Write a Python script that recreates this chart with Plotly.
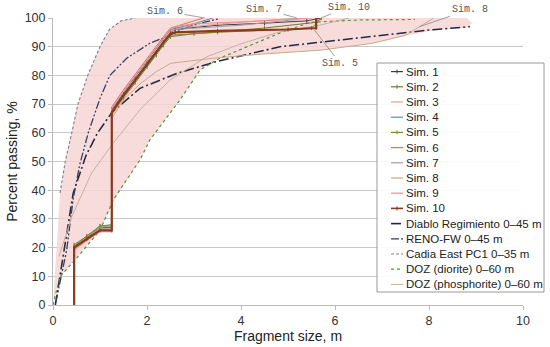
import plotly.graph_objects as go

# ---------------- data ----------------
env_upper_x = [0.0, 0.15, 0.26, 0.40, 0.53, 0.74, 1.00, 1.20, 1.45, 1.75, 8.70]
env_upper_y = [0.0, 39.0, 50.0, 60.0, 70.0, 80.0, 90.0, 96.0, 99.0, 100.0, 100.0]
env_lower_x = [0.0, 0.15, 0.50, 1.00, 1.28, 1.85, 2.06, 2.70, 3.13, 3.55, 4.50, 5.70, 6.80, 7.50, 8.00, 8.80, 8.92, 8.80]
env_lower_y = [0.0, 9.9, 16.3, 26.0, 36.0, 50.5, 57.5, 71.4, 81.9, 86.0, 87.5, 88.8, 91.2, 93.8, 95.5, 96.7, 98.3, 100.0]

cadia_x = [0.15, 0.26, 0.40, 0.53, 0.74, 1.00, 1.20, 1.45, 1.75]
cadia_y = [39.0, 50.0, 60.0, 70.0, 80.0, 90.0, 96.0, 99.0, 100.0]

reno_x = [0.06, 0.29, 0.43, 0.57, 0.75, 1.00, 1.21, 1.57, 2.06, 2.42, 2.80, 3.20, 3.55]
reno_y = [1.0, 19.0, 37.0, 49.0, 60.0, 72.0, 80.0, 86.0, 91.2, 93.5, 96.5, 98.5, 99.8]

diablo_x = [0.05, 0.20, 0.43, 0.70, 0.95, 1.25, 1.85, 2.63, 3.48, 4.83, 5.50, 6.80, 8.00, 8.87]
diablo_y = [0.0, 15.0, 39.0, 52.0, 60.0, 67.0, 75.5, 80.7, 84.8, 90.0, 91.2, 93.5, 95.8, 97.0]

dozd_x = [0.0, 0.15, 0.50, 1.00, 1.28, 1.85, 2.06, 2.70, 3.13, 3.55, 4.83, 5.47, 6.50, 7.70]
dozd_y = [0.0, 9.9, 16.3, 26.0, 36.6, 50.5, 57.5, 71.4, 81.9, 86.0, 94.8, 98.5, 99.3, 99.5]

dozp_x = [0.13, 0.40, 0.82, 1.28, 1.85, 2.49, 3.27, 4.00, 4.83, 5.68, 6.30]
dozp_y = [17.0, 30.8, 46.0, 56.4, 68.0, 78.4, 86.5, 91.0, 95.2, 97.5, 100.0]

sim1_x = [0.45, 0.45, 0.72, 1.00, 1.25, 1.25, 1.50, 1.75, 2.00, 2.20, 2.35, 2.50, 2.60, 3.50, 4.50, 5.40, 5.70]
sim1_y = [0, 20.0, 23.5, 27.0, 27.0, 68.0, 73.5, 78.5, 84.0, 88.0, 91.5, 95.0, 96.0, 97.5, 98.2, 99.0, 100.0]
sim2_x = [0.45, 0.45, 0.72, 1.00, 1.25, 1.25, 1.50, 1.75, 2.00, 2.20, 2.35, 2.50, 3.00, 4.50, 5.60, 5.70]
sim2_y = [0, 21.0, 24.0, 27.5, 28.0, 67.0, 72.0, 77.5, 83.0, 87.0, 90.5, 93.5, 94.5, 96.5, 98.5, 100.0]
sim3_x = [0.45, 0.45, 0.72, 1.00, 1.25, 1.25, 1.50, 1.75, 2.00, 2.20, 2.35, 2.50, 2.60, 4.00, 5.20]
sim3_y = [0, 19.0, 22.5, 26.0, 26.0, 66.0, 72.0, 78.0, 84.0, 88.5, 92.0, 95.5, 96.5, 98.5, 100.0]
sim4_x = [0.45, 0.45, 0.72, 1.00, 1.25, 1.25, 1.50, 1.75, 2.00, 2.20, 2.35, 2.50, 3.00, 3.40]
sim4_y = [0, 20.0, 23.0, 26.5, 27.0, 68.0, 74.0, 79.5, 85.0, 89.0, 92.5, 96.0, 98.0, 100.0]
sim5_x = [0.45, 0.45, 0.72, 1.00, 1.25, 1.25, 1.50, 1.75, 2.00, 2.20, 2.35, 2.50, 3.50, 5.50, 5.60, 5.70]
sim5_y = [0, 20.5, 24.0, 27.5, 27.5, 67.5, 72.5, 78.0, 83.5, 87.5, 91.0, 94.0, 95.0, 96.5, 98.0, 100.0]
sim6_x = [0.45, 0.45, 0.72, 1.00, 1.25, 1.25, 1.50, 1.75, 2.00, 2.20, 2.35, 2.50, 2.80, 3.20]
sim6_y = [0, 20.0, 23.0, 26.0, 26.5, 69.0, 75.0, 80.5, 86.0, 90.0, 93.5, 96.5, 98.0, 100.0]
sim7_x = [0.45, 0.45, 0.72, 1.00, 1.25, 1.25, 1.50, 1.75, 2.00, 2.20, 2.35, 2.50, 2.60, 4.00, 5.20, 5.30]
sim7_y = [0, 20.0, 23.5, 27.0, 27.5, 67.5, 73.0, 78.5, 84.5, 88.5, 92.0, 95.0, 96.0, 97.5, 99.5, 100.0]
sim8_x = [0.45, 0.45, 0.72, 1.00, 1.25, 1.25, 1.50, 1.85, 2.20, 2.50, 3.40, 4.50, 5.70, 6.80, 7.50, 8.10]
sim8_y = [0, 19.5, 23.0, 26.5, 26.5, 65.0, 71.5, 77.0, 81.3, 84.2, 86.0, 87.5, 88.8, 91.2, 94.0, 100.0]
sim9_x = [0.45, 0.45, 0.72, 1.00, 1.25, 1.25, 1.50, 1.75, 2.00, 2.20, 2.35, 2.50, 2.60, 3.00, 4.50, 5.50]
sim9_y = [0, 19.5, 22.5, 25.5, 25.5, 68.5, 74.5, 80.0, 85.5, 89.5, 93.0, 96.0, 97.0, 98.0, 99.0, 100.0]
sim10_x = [0.45, 0.45, 0.72, 1.00, 1.25, 1.25, 1.50, 1.75, 2.00, 2.20, 2.35, 2.50, 2.60, 3.50, 5.00, 5.60, 5.60]
sim10_y = [0, 20.0, 23.0, 26.0, 26.0, 67.0, 73.0, 78.5, 84.0, 88.0, 91.5, 94.5, 95.0, 95.5, 96.0, 96.5, 100.0]

sim_names = ["Sim. 1", "Sim. 2", "Sim. 3", "Sim. 4", "Sim. 5",
             "Sim. 6", "Sim. 7", "Sim. 8", "Sim. 9", "Sim. 10"]
sim_xs = [sim1_x, sim2_x, sim3_x, sim4_x, sim5_x, sim6_x, sim7_x, sim8_x, sim9_x, sim10_x]
sim_ys = [sim1_y, sim2_y, sim3_y, sim4_y, sim5_y, sim6_y, sim7_y, sim8_y, sim9_y, sim10_y]
sim_colors = ["#3c3c50", "#6b7f2a", "#d9a48e", "#5b8fa0", "#7b8b2b",
              "#e07060", "#a0a0a0", "#c8aa86", "#f08c8c", "#8b3a1e"]
sim_widths = [1, 1, 1, 1, 1, 1, 1, 1, 1, 2.2]
sim_markers = [True, True, False, False, True, False, False, False, False, True]

ref_names = ["Diablo Regimiento 0–45 m", "RENO-FW 0–45 m", "Cadia East PC1 0–35 m",
             "DOZ (diorite) 0–60 m", "DOZ (phosphorite) 0–60 m"]
ref_xs = [diablo_x, reno_x, cadia_x, dozd_x, dozp_x]
ref_ys = [diablo_y, reno_y, cadia_y, dozd_y, dozp_y]
ref_colors = ["#262a40", "#3a3f5e", "#857a90", "#4e9636", "#c8b0a0"]
ref_widths = [1.6, 1.3, 1.1, 1.2, 1.0]
ref_dashes = ["10px,3px,2px,3px", "8px,2px,2px,2px,2px,2px", "3px,2px", "dot", "solid"]

label_texts = ["Sim. 6", "Sim. 7", "Sim. 10", "Sim. 5", "Sim. 8"]
label_x = [3.23, 5.19, 5.70, 5.53, 7.80]
label_y = [100.0, 100.0, 100.0, 96.5, 97.0]
label_ax = [-40, -33, 28, 27, 50]
label_ay = [-7, -9, -11, 35, -17]

# ---------------- layout geometry (pixels) ----------------
W, H = 550, 347
L, R, T, B = 53, 27, 18, 42
PW, PH = W - L - R, H - T - B


def px_x(p):
    return (p - L) / PW


def px_y(p):
    return (H - B - p) / PH


fig = go.Figure()

fig.add_trace(go.Scatter(
    x=env_upper_x + env_lower_x[::-1], y=env_upper_y + env_lower_y[::-1],
    mode="lines", fill="toself", fillcolor="rgba(247,212,212,0.82)",
    line=dict(width=0, color="rgba(0,0,0,0)"), showlegend=False, hoverinfo="skip"))

for nm, xs, ys, col, w, dsh in zip(ref_names, ref_xs, ref_ys, ref_colors, ref_widths, ref_dashes):
    fig.add_trace(go.Scatter(x=xs, y=ys, name=nm, mode="lines",
                             line=dict(color=col, width=w, dash=dsh)))

for nm, xs, ys, col, w, mk in zip(sim_names, sim_xs, sim_ys, sim_colors, sim_widths, sim_markers):
    fig.add_trace(go.Scatter(
        x=xs, y=ys, name=nm,
        mode="lines+markers" if mk else "lines",
        line=dict(color=col, width=w),
        marker=dict(symbol="line-ns-open", size=3, color=col, line=dict(color=col, width=1))))

for t, x, y, ax, ay in zip(label_texts, label_x, label_y, label_ax, label_ay):
    fig.add_annotation(x=x, y=y, text=t, showarrow=True, arrowhead=0, arrowwidth=0.7,
                       arrowcolor="#777", ax=ax, ay=ay,
                       font=dict(family="Liberation Mono", size=10, color="#555"))

# ---------------- custom legend box ----------------
shapes = [dict(type="rect", xref="paper", yref="paper",
               x0=px_x(377), x1=px_x(544), y0=px_y(292), y1=px_y(63),
               line=dict(color="#9a9a9a", width=1), fillcolor="rgba(255,255,255,0.92)")]
entries = list(zip(sim_names, sim_colors, [1.2] * 9 + [1.6], ["solid"] * 10, sim_markers)) + \
          list(zip(ref_names, ref_colors, ref_widths, ref_dashes, [False] * 5))
for i, (nm, col, w, dsh, mk) in enumerate(entries):
    yc = 71.6 + 15.2 * i
    shapes.append(dict(type="line", xref="paper", yref="paper",
                       x0=px_x(391), x1=px_x(403), y0=px_y(yc), y1=px_y(yc),
                       line=dict(color=col, width=w, dash=dsh)))
    if mk:
        shapes.append(dict(type="line", xref="paper", yref="paper",
                           x0=px_x(397), x1=px_x(397), y0=px_y(yc - 2), y1=px_y(yc + 2),
                           line=dict(color=col, width=1)))
    fig.add_annotation(xref="paper", yref="paper", x=px_x(404), y=px_y(yc), text=nm,
                       showarrow=False, xanchor="left", yanchor="middle",
                       font=dict(family="Liberation Sans, Arial", size=11.5, color="#222"))

fig.update_layout(
    width=W, height=H, showlegend=False,
    margin=dict(l=L, r=R, t=T, b=B),
    paper_bgcolor="white", plot_bgcolor="white",
    font=dict(family="Liberation Sans, Arial", color="#222"),
    shapes=shapes,
    xaxis=dict(range=[0, 10], dtick=2, showgrid=False, zeroline=False, automargin=False,
               showline=True, linecolor="#bbb", ticks="outside", ticklen=4, tickcolor="#bbb",
               tickfont=dict(size=12.5, color="#333"),
               title=dict(text="Fragment size, m", font=dict(size=14, color="#222"), standoff=2)),
    yaxis=dict(range=[0, 100], dtick=10, showgrid=True, gridcolor="#c8c8c8", zeroline=False,
               automargin=False,
               showline=True, linecolor="#bbb", ticks="outside", ticklen=4, tickcolor="#bbb",
               tickfont=dict(size=12.5, color="#333"),
               title=dict(text="Percent passing, %", font=dict(size=14, color="#222"), standoff=3)),
)

fig.write_html("out.html", config={"displayModeBar": False},
               post_script="document.body.style.margin='0px';")
